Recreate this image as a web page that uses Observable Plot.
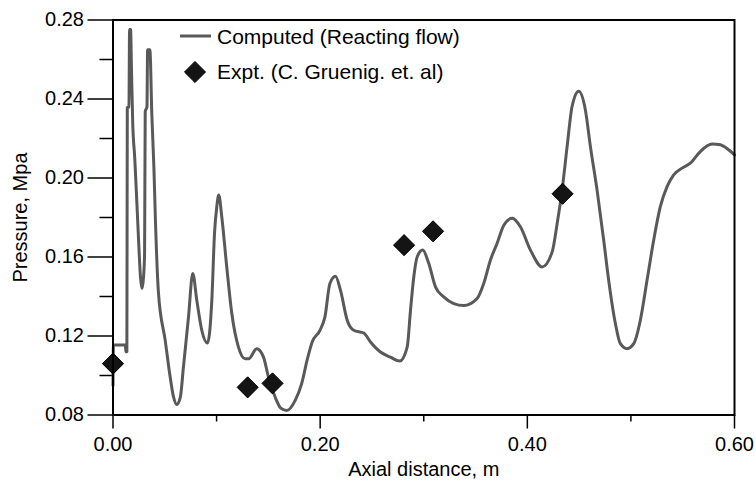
<!DOCTYPE html>
<html>
<head>
<meta charset="utf-8">
<script src="https://cdn.jsdelivr.net/npm/d3@7"></script>
<script src="https://cdn.jsdelivr.net/npm/@observablehq/plot@0.6"></script>
<style>
  html, body { margin: 0; padding: 0; background: #fff; }
  #chart { width: 756px; height: 486px; }
</style>
</head>
<body>
<div id="chart"></div>
<script>
// Computed (Reacting flow) curve
const xComputed = [0.0000,0.0004,0.0118,0.0125,0.0134,0.0138,0.0154,0.0160,0.0170,0.0178,0.0190,0.0210,0.0230,0.0250,0.0265,0.0280,0.0295,0.0305,0.0311,0.0328,0.0334,0.0356,0.0375,0.0395,0.0410,0.0439,0.0504,0.0552,0.0585,0.0616,0.0650,0.0680,0.0729,0.0770,0.0809,0.0857,0.0912,0.0954,0.0980,0.1002,0.1021,0.1050,0.1098,0.1147,0.1211,0.1276,0.1310,0.1388,0.1453,0.1501,0.1566,0.1620,0.1678,0.1759,0.1822,0.1875,0.1923,0.1998,0.2046,0.2094,0.2148,0.2196,0.2261,0.2324,0.2421,0.2486,0.2582,0.2678,0.2768,0.2840,0.2872,0.2904,0.2937,0.2990,0.3048,0.3113,0.3193,0.3290,0.3386,0.3515,0.3579,0.3644,0.3708,0.3772,0.3853,0.3933,0.4030,0.4143,0.4240,0.4288,0.4336,0.4384,0.4432,0.4496,0.4560,0.4609,0.4673,0.4737,0.4785,0.4850,0.4898,0.4963,0.5027,0.5091,0.5156,0.5220,0.5284,0.5349,0.5413,0.5494,0.5574,0.5670,0.5783,0.5863,0.5943,0.6000];
const yComputed = [0.0950,0.1155,0.1155,0.1120,0.1120,0.2356,0.2360,0.2752,0.2752,0.2560,0.2285,0.2100,0.1880,0.1650,0.1500,0.1440,0.1500,0.1620,0.2337,0.2360,0.2650,0.2650,0.2320,0.2050,0.1780,0.1417,0.1178,0.0992,0.0890,0.0853,0.0890,0.1043,0.1297,0.1517,0.1381,0.1229,0.1164,0.1380,0.1720,0.1855,0.1914,0.1804,0.1550,0.1314,0.1144,0.1085,0.1085,0.1136,0.1093,0.0992,0.0890,0.0835,0.0823,0.0874,0.0960,0.1080,0.1170,0.1229,0.1297,0.1466,0.1503,0.1432,0.1280,0.1229,0.1215,0.1170,0.1119,0.1093,0.1073,0.1144,0.1330,0.1500,0.1601,0.1635,0.1568,0.1449,0.1398,0.1364,0.1354,0.1390,0.1466,0.1585,0.1669,0.1760,0.1796,0.1753,0.1635,0.1550,0.1626,0.1770,0.1940,0.2159,0.2362,0.2439,0.2346,0.2159,0.1940,0.1686,0.1483,0.1263,0.1161,0.1136,0.1161,0.1280,0.1483,0.1686,0.1855,0.1956,0.2016,0.2050,0.2075,0.2134,0.2172,0.2168,0.2143,0.2117];

// Experimental points
const xExpt = [0.000, 0.130, 0.154, 0.281, 0.309, 0.434];
const yExpt = [0.106, 0.094, 0.096, 0.166, 0.173, 0.192];

// Ticks and labels
const xMajorTicks = [0, 0.2, 0.4, 0.6];
const xMinorTicks = [0.1, 0.3, 0.5];
const yMajorTicks = [0.08, 0.12, 0.16, 0.20, 0.24, 0.28];
const yMinorTicks = [0.10, 0.14, 0.18, 0.22, 0.26];
const xTitle = "Axial distance, m";
const yTitle = "Pressure, Mpa";
const legendLabels = ["Computed (Reacting flow)", "Expt. (C. Gruenig. et. al)"];

const computed = xComputed.map((x, i) => ({x, y: yComputed[i]}));
const expt = xExpt.map((x, i) => ({x, y: yExpt[i]}));

const FONT = "'Liberation Sans', Arial, Helvetica, sans-serif";
const LINE = "#595959";

const chart = Plot.plot({
  width: 756,
  height: 486,
  marginLeft: 112.5,
  marginRight: 22,
  marginTop: 19.5,
  marginBottom: 71.5,
  style: {fontFamily: FONT, fontSize: "20px", color: "#000", background: "#fff", overflow: "visible"},
  x: {domain: [0, 0.6]},
  y: {domain: [0.08, 0.28]},
  marks: [
    Plot.axisX(xMajorTicks, {tickSize: 14, tickPadding: 8, tickFormat: d3.format(".2f"), label: null, strokeWidth: 1.5, fontSize: 20}),
    Plot.axisX(xMinorTicks, {tickSize: 7, text: null, label: null, strokeWidth: 1.5}),
    Plot.axisY(yMajorTicks, {tickSize: 25, tickPadding: 4, tickFormat: d3.format(".2f"), label: null, strokeWidth: 1.5, fontSize: 20}),
    Plot.axisY(yMinorTicks, {tickSize: 13, text: null, label: null, strokeWidth: 1.5}),
    Plot.line(computed, {x: "x", y: "y", stroke: LINE, strokeWidth: 3, curve: "monotone-x"}),
    Plot.dot(expt, {x: "x", y: "y", symbol: "diamond2", r: 9.5, fill: "#141414", stroke: "#000", strokeWidth: 1}),
    Plot.frame({stroke: "#000", strokeWidth: 2}),
    Plot.text([xTitle], {frameAnchor: "bottom", dy: 55, text: d => d, fontSize: 20, lineAnchor: "middle", textAnchor: "middle"}),
    Plot.text([yTitle], {frameAnchor: "left", dx: -92.5, rotate: -90, text: d => d, fontSize: 20, lineAnchor: "middle", textAnchor: "middle"})
  ]
});

document.getElementById("chart").appendChild(chart);

// Legend (inside the plot area, upper left)
const svg = d3.select(chart);
const lg = svg.append("g").attr("font-family", FONT).attr("font-size", 21).attr("text-anchor", "start");
lg.append("line").attr("x1", 180).attr("x2", 211).attr("y1", 36).attr("y2", 36)
  .attr("stroke", LINE).attr("stroke-width", 3);
lg.append("text").attr("x", 217).attr("y", 37).attr("dy", "0.35em").attr("text-anchor", "start").text(legendLabels[0]);
lg.append("path").attr("transform", "translate(195,72)")
  .attr("d", d3.symbol(d3.symbolDiamond2, Math.PI * 9.5 * 9.5)())
  .attr("fill", "#141414").attr("stroke", "#000");
lg.append("text").attr("x", 217).attr("y", 72).attr("dy", "0.35em").attr("text-anchor", "start").text(legendLabels[1]);
</script>
</body>
</html>
